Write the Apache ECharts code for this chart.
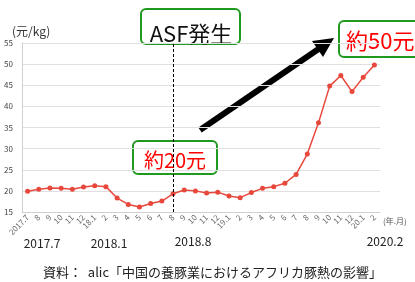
<!DOCTYPE html>
<html>
<head>
<meta charset="utf-8">
<script src="https://cdn.jsdelivr.net/npm/echarts@6/dist/echarts.min.js"></script>
<style>
  html, body { margin: 0; padding: 0; background: #fff; }
  #chart { width: 415px; height: 282px; }
</style>
</head>
<body>
<div id="chart"></div>
<script>
// 月ラベル（2017.7〜2020.2）
var months = ["2017.7", "8", "9", "10", "11", "12", "18.1", "2", "3", "4", "5", "6", "7", "8", "9", "10", "11", "12",
  "19.1", "2", "3", "4", "5", "6", "7", "8", "9", "10", "11", "12", "20.1", "2"];
// 豚肉価格（元/kg）
var prices = [19.9, 20.4, 20.7, 20.6, 20.4, 20.9, 21.2, 21.0, 18.3, 16.8, 16.2, 17.0, 17.6, 19.3, 20.2, 20.0, 19.5, 19.7,
  18.8, 18.4, 19.6, 20.6, 21.0, 21.8, 23.9, 28.7, 36.1, 44.8, 47.3, 43.5, 46.9, 49.8];
var asfMonth = 13; // 2018.8
var periodLabels = ["2017.7", "2018.1", "2018.8", "2020.2"];

var chart = echarts.init(document.getElementById("chart"));
var font = '"Noto Sans CJK JP", "Noto Sans", sans-serif';

var option = {
  animation: false,
  textStyle: { fontFamily: font },
  grid: { left: 22, right: 35, top: 43, bottom: 70 },
  xAxis: {
    type: "category",
    data: months,
    boundaryGap: true,
    name: "(年.月)",
    nameLocation: "end",
    nameGap: 3,
    nameTextStyle: { fontSize: 8, color: "#555", verticalAlign: "top", padding: [5, 0, 0, 0] },
    axisLine: { lineStyle: { color: "#d0d0d0" } },
    axisTick: { show: false },
    axisLabel: { interval: 0, rotate: 45, fontSize: 8, color: "#666", margin: 4 }
  },
  yAxis: {
    type: "value",
    min: 15,
    max: 55,
    interval: 5,
    name: "(元/kg)",
    nameLocation: "end",
    nameGap: 6,
    nameTextStyle: { fontSize: 12, color: "#333", align: "left", padding: [0, 0, 0, -10] },
    axisLine: { show: true, lineStyle: { color: "#d0d0d0" } },
    axisTick: { show: false },
    axisLabel: { fontSize: 8, color: "#444", margin: 9 },
    splitLine: { lineStyle: { color: "#e0e0e0" } }
  },
  series: [
    {
      type: "line",
      data: prices,
      symbol: "circle",
      symbolSize: 5,
      lineStyle: { color: "#e8483c", width: 1.5 },
      itemStyle: { color: "#e8483c" },
      markLine: {
        silent: true,
        symbol: "none",
        label: { show: false },
        lineStyle: { color: "#000", type: [3, 2], width: 1 },
        data: [{ xAxis: asfMonth }]
      }
    }
  ],
  graphic: [
    // 矢印
    { type: "line", shape: { x1: 200, y1: 130, x2: 320, y2: 48 }, style: { stroke: "#000", lineWidth: 6 } },
    { type: "polygon", shape: { points: [[334, 38], [323, 57], [312, 41]] }, style: { fill: "#000" } },
    // ASF発生
    { type: "rect", shape: { x: 141, y: 9, width: 99, height: 35, r: 5 }, style: { fill: "#fff", stroke: "#1f9a1f", lineWidth: 2 } },
    { type: "text", x: 191, y: 34, style: { text: "ASF発生", font: "22px " + font, fill: "#111", align: "center", verticalAlign: "middle" } },
    // 約20元
    { type: "rect", shape: { x: 133, y: 141, width: 84, height: 33, r: 5 }, style: { fill: "#fff", stroke: "#1f9a1f", lineWidth: 2 } },
    { type: "text", x: 175, y: 160, style: { text: "約20元", font: "20px " + font, fill: "#ff0000", align: "center", verticalAlign: "middle" } },
    // 約50元
    { type: "rect", shape: { x: 339, y: 21, width: 90, height: 36, r: 5 }, style: { fill: "#fff", stroke: "#1f9a1f", lineWidth: 2 } },
    { type: "text", x: 346, y: 41, style: { text: "約50元", font: "22px " + font, fill: "#ff0000", align: "left", verticalAlign: "middle" } },
    // 期間ラベル
    { type: "text", x: 42, y: 243, style: { text: periodLabels[0], font: "12px " + font, fill: "#222", align: "center", verticalAlign: "middle" } },
    { type: "text", x: 109, y: 243, style: { text: periodLabels[1], font: "12px " + font, fill: "#222", align: "center", verticalAlign: "middle" } },
    { type: "text", x: 193, y: 241, style: { text: periodLabels[2], font: "12px " + font, fill: "#222", align: "center", verticalAlign: "middle" } },
    { type: "text", x: 385, y: 241, style: { text: periodLabels[3], font: "12px " + font, fill: "#222", align: "center", verticalAlign: "middle" } },
    // 資料
    { type: "text", x: 43, y: 272, style: { text: "資料：  alic「中国の養豚業におけるアフリカ豚熱の影響」", font: "13px " + font, fill: "#222", align: "left", verticalAlign: "middle" } }
  ]
};

chart.setOption(option);
</script>
</body>
</html>
